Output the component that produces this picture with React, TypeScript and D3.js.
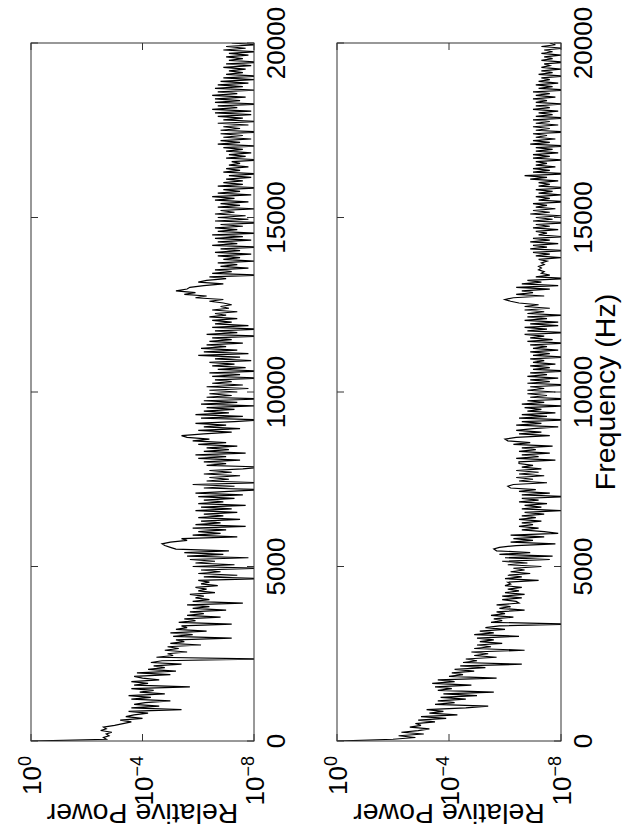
import * as d3 from "d3";

// log10 of relative power, one value per 50 Hz bin (0 .. 20000 Hz), 20 values per row = 1 kHz
const topPowerExp = [
  0, -2.7, -2.6, -2.8, -2.7, -2.9, -2.5, -2.7, -2.6, -3.0, -3.3, -3.6, -3.2, -4.0, -3.4, -3.7, -4.2, -3.5, -5.4, -3.6,
  -4.6, -3.7, -4.1, -5.0, -3.6, -4.3, -3.5, -4.8, -3.9, -4.4, -3.6, -5.7, -3.7, -4.2, -3.6, -4.6, -4.0, -3.7, -5.0, -3.8,
  -5.2, -4.2, -4.8, -4.4, -5.4, -4.3, -4.7, -8.3, -4.5, -5.1, -4.9, -5.6, -4.8, -5.3, -4.9, -6.1, -5.0, -5.5, -5.2, -7.2,
  -5.1, -5.8, -5.0, -6.3, -5.2, -5.6, -5.4, -7.2, -5.3, -5.9, -5.5, -6.8, -5.6, -6.2, -5.7, -7.0, -5.8, -6.4, -5.6, -7.6,
  -5.8, -6.4, -5.9, -6.2, -5.7, -6.6, -6.0, -6.3, -5.9, -6.7, -6.1, -6.4, -6.0, -8.3, -6.2, -7.4, -6.0, -6.8, -6.1, -8.1,
  -5.8, -7.3, -5.9, -6.6, -5.7, -7.8, -5.6, -6.9, -5.5, -7.1, -5.2, -5.0, -4.8, -4.7, -5.0, -5.6, -5.4, -7.4, -5.8, -6.8,
  -6.0, -7.0, -5.8, -7.7, -5.9, -6.8, -6.1, -7.5, -6.0, -6.9, -6.2, -7.4, -5.9, -7.2, -6.1, -7.7, -6.0, -6.9, -6.2, -7.3,
  -6.0, -7.6, -5.9, -7.1, -8.3, -6.2, -7.3, -5.8, -8.3, -6.3, -7.1, -6.4, -7.5, -6.2, -7.2, -6.4, -7.6, -8.3, -6.3, -7.0,
  -6.2, -7.5, -6.0, -7.0, -5.9, -7.7, -6.2, -7.1, -6.3, -7.4, -6.0, -7.0, -5.8, -6.4, -5.6, -5.4, -6.2, -7.2, -6.0, -7.5,
  -6.2, -7.0, -5.9, -7.3, -8.3, -6.1, -7.6, -5.9, -7.1, -6.2, -7.3, -6.3, -8.0, -6.1, -7.4, -6.2, -8.3, -6.3, -7.2, -6.4,
  -7.4, -6.4, -7.8, -6.3, -7.6, -6.5, -7.2, -6.6, -8.3, -6.5, -7.5, -6.4, -8.3, -6.7, -7.7, -6.5, -7.3, -6.4, -7.9, -6.6,
  -7.5, -6.0, -7.8, -6.2, -7.4, -6.1, -7.0, -6.3, -7.6, -6.4, -7.2, -6.5, -8.3, -6.3, -7.4, -6.6, -8.3, -6.5, -7.8, -6.6,
  -7.2, -6.5, -7.4, -6.4, -7.0, -6.6, -7.4, -6.5, -7.1, -6.8, -7.2, -6.9, -6.4, -6.9, -5.9, -6.3, -5.5, -5.9, -5.2, -5.6,
  -5.7, -6.2, -6.9, -6.0, -6.3, -7.0, -6.4, -8.3, -6.5, -7.2, -6.6, -7.8, -6.8, -7.4, -6.7, -8.0, -6.9, -7.5, -6.7, -7.9,
  -6.6, -7.5, -6.8, -8.2, -6.5, -7.4, -6.7, -7.9, -6.6, -7.6, -6.5, -8.1, -6.7, -7.4, -6.6, -7.6, -6.8, -8.3, -6.6, -7.8,
  -6.7, -7.7, -6.6, -7.3, -6.8, -8.0, -6.7, -7.5, -6.8, -7.8, -6.6, -7.3, -6.5, -7.9, -6.7, -7.5, -6.9, -8.3, -6.7, -7.6,
  -6.9, -7.6, -7.0, -7.9, -7.1, -8.2, -6.9, -7.5, -7.0, -7.8, -7.1, -7.5, -7.2, -8.3, -7.0, -7.7, -7.1, -7.9, -7.0, -7.6,
  -6.9, -8.1, -6.7, -7.5, -6.8, -7.9, -6.9, -7.6, -6.8, -8.3, -6.8, -7.5, -6.9, -7.8, -6.7, -8.2, -6.9, -7.6, -6.7, -7.9,
  -6.6, -7.9, -6.5, -7.4, -6.7, -8.3, -6.6, -7.5, -6.6, -7.7, -6.5, -7.4, -6.7, -8.1, -6.6, -7.6, -6.7, -7.8, -6.8, -8.0,
  -6.9, -8.2, -7.0, -7.6, -7.1, -7.7, -6.9, -7.9, -7.0, -8.3, -7.1, -7.6, -7.0, -7.8, -7.1, -8.1, -6.9, -7.7, -7.0, -8.1,
  -7.2,
];

const bottomPowerExp = [
  0, -2.0, -2.8, -2.2, -3.1, -2.3, -2.9, -3.3, -2.6, -3.0, -2.8, -3.5, -2.9, -3.9, -3.0, -4.3, -3.3, -3.8, -3.2, -4.6,
  -5.4, -3.5, -4.2, -3.6, -4.6, -3.7, -5.0, -3.8, -5.6, -3.6, -4.1, -3.5, -4.8, -3.4, -4.2, -3.6, -5.7, -4.0, -4.5, -4.1,
  -4.9, -4.2, -5.3, -4.4, -6.6, -4.5, -5.0, -4.6, -5.7, -4.9, -5.4, -4.8, -6.7, -4.9, -5.5, -5.0, -5.9, -5.1, -5.6, -5.0,
  -6.5, -4.9, -5.6, -5.1, -6.0, -5.3, -5.8, -8.3, -5.5, -5.9, -5.6, -6.3, -5.5, -6.0, -5.7, -6.7, -5.8, -6.2, -5.7, -6.5,
  -6.4, -5.9, -6.6, -5.9, -6.7, -6.0, -6.5, -6.1, -6.6, -6.0, -6.2, -6.1, -7.2, -6.0, -6.6, -6.1, -6.9, -6.2, -6.7, -6.3,
  -7.3, -6.1, -6.8, -5.9, -7.6, -6.0, -7.7, -5.8, -6.9, -5.7, -5.6, -5.8, -6.4, -7.8, -6.2, -7.0, -6.3, -7.4, -6.2, -7.9,
  -7.4, -6.6, -7.2, -6.5, -7.0, -6.6, -7.3, -6.5, -7.1, -6.6, -7.4, -6.7, -8.0, -6.6, -7.3, -6.7, -7.5, -6.5, -7.2, -6.6,
  -8.3, -6.6, -7.6, -6.5, -7.1, -6.2, -6.1, -6.3, -7.5, -6.5, -7.0, -6.4, -7.4, -6.5, -7.2, -6.4, -7.3, -6.6, -7.0, -6.5,
  -6.5, -7.8, -6.4, -7.2, -6.6, -7.6, -6.5, -7.1, -6.6, -7.7, -6.3, -6.9, -6.1, -6.0, -6.4, -7.6, -6.5, -7.3, -6.4, -7.0,
  -7.9, -6.4, -7.3, -6.6, -8.3, -6.5, -7.5, -6.6, -7.8, -6.8, -7.3, -6.7, -8.1, -6.6, -7.4, -6.8, -8.3, -6.9, -7.5, -6.8,
  -7.8, -6.8, -7.4, -6.9, -8.3, -6.8, -7.6, -6.9, -7.9, -6.8, -7.5, -6.9, -8.3, -7.0, -7.6, -6.9, -7.8, -7.0, -7.4, -6.9,
  -8.2, -7.0, -7.6, -6.9, -7.9, -7.0, -7.5, -6.9, -8.3, -6.8, -7.7, -6.9, -7.4, -6.7, -8.3, -6.8, -7.5, -6.7, -7.9, -6.9,
  -7.9, -6.7, -7.5, -6.8, -8.1, -6.8, -7.4, -6.7, -7.6, -6.7, -7.2, -6.5, -6.2, -6.0, -6.3, -7.4, -6.4, -7.0, -6.6, -7.6,
  -6.4, -7.9, -6.6, -7.3, -6.8, -8.3, -7.1, -7.6, -7.3, -7.4, -7.2, -7.3, -7.2, -7.4, -7.3, -7.5, -7.2, -8.0, -7.1, -7.6,
  -7.0, -8.2, -6.9, -7.5, -7.0, -7.9, -6.9, -7.6, -7.0, -8.1, -7.2, -7.5, -7.1, -7.9, -7.0, -7.6, -7.1, -8.3, -7.0, -7.7,
  -7.1, -8.0, -6.9, -7.6, -7.0, -7.8, -7.1, -7.5, -7.0, -8.2, -7.2, -7.6, -7.1, -8.0, -7.2, -7.7, -7.1, -8.3, -7.2, -7.6,
  -7.2, -7.9, -6.9, -7.5, -6.7, -8.3, -7.0, -7.6, -7.0, -7.8, -7.1, -7.5, -7.1, -8.1, -7.0, -7.6, -7.0, -7.9, -7.1, -7.7,
  -7.1, -8.3, -6.9, -7.6, -7.0, -7.8, -7.1, -7.5, -7.0, -8.2, -7.1, -7.6, -7.0, -7.9, -7.1, -7.6, -7.0, -8.3, -7.1, -7.7,
  -7.2, -7.9, -7.0, -7.6, -7.1, -8.1, -7.1, -7.5, -7.0, -7.8, -7.1, -7.6, -7.0, -8.3, -7.2, -7.7, -7.1, -7.9, -7.2, -7.6,
  -7.3, -8.1, -7.2, -7.7, -7.3, -8.0, -7.3, -7.6, -7.4, -8.2, -7.3, -7.7, -7.4, -8.0, -7.3, -7.7, -7.4, -8.1, -7.3, -7.8,
  -7.6,
];

const binHz = 50;
const freqTicks = [0, 5000, 10000, 15000, 20000];
const powerTickExps = [0, -4, -8];

// the figure is drawn unrotated (W x H) and then turned 90deg counter-clockwise
const W = 831;
const H = 624;
const FONT = "'Liberation Sans', Arial, Helvetica, sans-serif";
const TICK = 7;

const x = d3.scaleLinear().domain([0, 20000]).range([90, 788]);

function Panel({ exps, v0, v1, id, xlabel }: { exps: number[]; v0: number; v1: number; id: string; xlabel?: string }) {
  const y = d3.scaleLog().domain([1e-8, 1]).range([v1, v0]);
  const line = d3
    .line<number>()
    .x((_, i) => x(i * binHz))
    .y((d) => y(Math.pow(10, d)));
  const [u0, u1] = x.range();

  return (
    <g>
      <clipPath id={id}>
        <rect x={u0} y={v0} width={u1 - u0} height={v1 - v0} />
      </clipPath>
      <path d={line(exps) || ""} fill="none" stroke="#000" strokeWidth={1.2} clipPath={`url(#${id})`} />
      <rect x={u0} y={v0} width={u1 - u0} height={v1 - v0} fill="none" stroke="#333" strokeWidth={1} />
      {freqTicks.map((f) => (
        <g key={f}>
          <line x1={x(f)} x2={x(f)} y1={v1} y2={v1 - TICK} stroke="#333" />
          <line x1={x(f)} x2={x(f)} y1={v0} y2={v0 + TICK} stroke="#333" />
          <text x={x(f)} y={v1 + 31} textAnchor="middle" fontSize={26} fontFamily={FONT}>
            {f}
          </text>
        </g>
      ))}
      {powerTickExps.map((e) => (
        <g key={e}>
          <line x1={u0} x2={u0 + TICK} y1={y(Math.pow(10, e))} y2={y(Math.pow(10, e))} stroke="#333" />
          <line x1={u1} x2={u1 - TICK} y1={y(Math.pow(10, e))} y2={y(Math.pow(10, e))} stroke="#333" />
          <text x={75} y={y(Math.pow(10, e)) + 10} textAnchor="end" fontSize={26} fontFamily={FONT}>
            10
            <tspan fontSize={18} dy={-10}>
              {e === 0 ? "0" : `\u2212${-e}`}
            </tspan>
          </text>
        </g>
      ))}
      <text
        transform={`translate(27, ${(v0 + v1) / 2}) rotate(-90)`}
        textAnchor="middle"
        fontSize={28.5}
        fontFamily={FONT}
      >
        Relative Power
      </text>
      {xlabel && (
        <text x={(u0 + u1) / 2} y={v1 + 54} textAnchor="middle" fontSize={28.5} fontFamily={FONT}>
          {xlabel}
        </text>
      )}
    </g>
  );
}

export default function App() {
  return (
    <svg width={H} height={W} style={{ position: "absolute", left: 0, top: 0, background: "#fff" }}>
      <g transform={`translate(0, ${W}) rotate(-90)`}>
        <Panel exps={topPowerExp} v0={31} v1={254} id="clipTop" />
        <Panel exps={bottomPowerExp} v0={337} v1={561} id="clipBottom" xlabel="Frequency (Hz)" />
      </g>
    </svg>
  );
}
